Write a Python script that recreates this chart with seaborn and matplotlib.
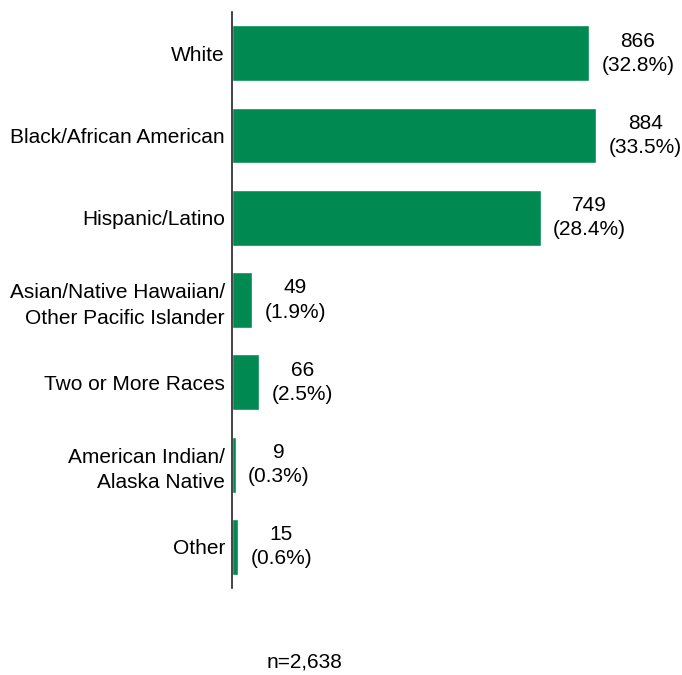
import matplotlib
matplotlib.use("Agg")
import matplotlib.pyplot as plt
import seaborn as sns
import pandas as pd

sns.set_style("white")
plt.rcParams.update({
    'font.family': ['Liberation Sans', 'DejaVu Sans'],
    'font.size': 15,
    'text.color': 'black',
    'ytick.color': 'black',
})

# Data
categories = [
    "White",
    "Black/African American",
    "Hispanic/Latino",
    "Asian/Native Hawaiian/\nOther Pacific Islander",
    "Two or More Races",
    "American Indian/\nAlaska Native",
    "Other",
]
counts = [866, 884, 749, 49, 66, 9, 15]
percents = [32.8, 33.5, 28.4, 1.9, 2.5, 0.3, 0.6]
total_label = "n=2,638"

df = pd.DataFrame({"category": categories, "count": counts, "pct": percents})

fig = plt.figure(figsize=(6.82, 6.75), dpi=100)
ax = fig.add_axes([0.340, 0.129, 0.66, 0.853])

sns.barplot(data=df, x="count", y="category", color="#008A52",
            saturation=1, width=0.68, orient="h", ax=ax)

ax.set_xlim(0, 1092)
ax.set_ylim(6.5, -0.5)

# value labels to the right of bars
for i, (c, p) in enumerate(zip(counts, percents)):
    ax.annotate(f"{c}\n({p}%)", xy=(c, i), xytext=(9, 0),
                textcoords="offset points", ha="left", va="center",
                multialignment="center", fontsize=15, linespacing=1.35,
                color="black")

ax.set_xlabel("")
ax.set_ylabel("")
ax.set_xticks([])
ax.tick_params(axis="y", length=0, pad=5, labelsize=15, labelcolor="black")
for lbl in ax.get_yticklabels():
    lbl.set_multialignment("right")
    lbl.set_linespacing(1.45)

for side in ["top", "right", "bottom"]:
    ax.spines[side].set_visible(False)
ax.spines["left"].set_color("#222222")
ax.spines["left"].set_linewidth(1.2)

fig.text(305 / 682, 1 - 662 / 675, total_label, ha="center", va="center",
         fontsize=15, color="black")

fig.savefig("out.png", dpi=100)
